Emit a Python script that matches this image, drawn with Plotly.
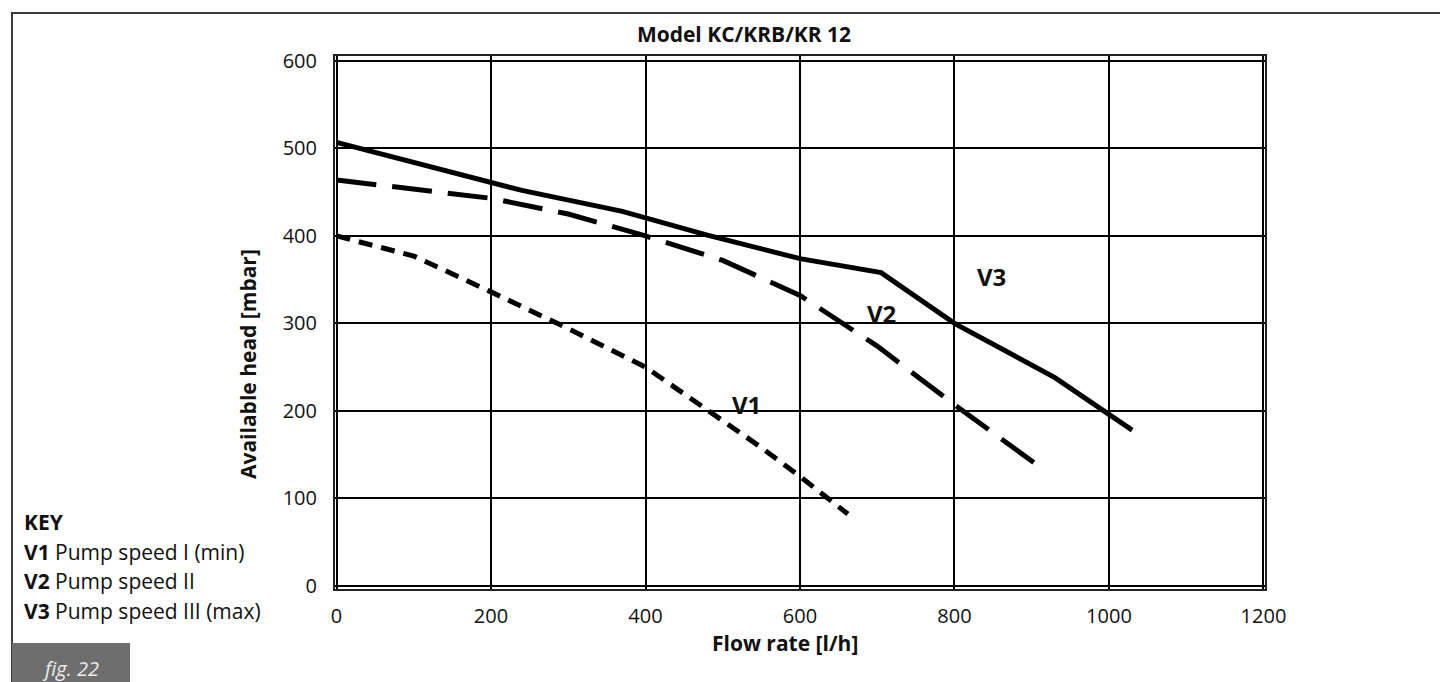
import plotly.graph_objects as go

# ---- data ----
v1_flow = [0, 100, 200, 300, 400, 480, 550, 600, 662]
v1_head = [400, 377, 336, 294, 250, 200, 158, 125, 82]

v2_flow = [0, 100, 200, 300, 400, 500, 600, 700, 800, 915]
v2_head = [464, 454, 443, 425, 400, 372, 332, 274, 207, 133]

v3_flow = [0, 100, 240, 370, 480, 600, 705, 800, 930, 1030]
v3_head = [507, 484, 452, 428, 401, 374, 358, 300, 238, 178]

x_ticks = [0, 200, 400, 600, 800, 1000, 1200]
y_ticks = [0, 100, 200, 300, 400, 500, 600]

key_lines = ["<b>KEY</b>", "<b>V1</b> Pump speed I (min)", "<b>V2</b> Pump speed II",
             "<b>V3</b> Pump speed III (max)"]

# ---- page geometry (pixels) ----
W, H = 1448, 682
L, R, T, B = 327, 1257, 48, 581
FONT = "Open Sans"


def px(x):
    return (x - L) / (R - L)


def py(y):
    return (B - y) / (B - T)


fig = go.Figure()
fig.add_trace(go.Scatter(x=v3_flow, y=v3_head, mode="lines", name="V3",
                         line=dict(color="black", width=5)))
fig.add_trace(go.Scatter(x=v2_flow, y=v2_head, mode="lines", name="V2",
                         line=dict(color="black", width=5, dash="40px,16px")))
fig.add_trace(go.Scatter(x=v1_flow, y=v1_head, mode="lines", name="V1",
                         line=dict(color="black", width=5, dash="14px,9px")))

fig.update_layout(
    width=W, height=H, autosize=False,
    margin=dict(l=L, r=W - R, t=T, b=H - B, pad=0),
    plot_bgcolor="white", paper_bgcolor="white",
    showlegend=False,
    font=dict(family=FONT, size=20, color="#111"),
    title=dict(text="<b>Model KC/KRB/KR 12</b>", xref="paper", x=px(736), xanchor="center",
               y=1 - 27 / H, yanchor="middle", font=dict(size=21, color="#111")),
)
fig.update_xaxes(range=[-2, 1202], tickvals=x_ticks, showgrid=True, gridcolor="black", gridwidth=1.5,
                 showline=True, linecolor="#222", linewidth=2, mirror=True, zeroline=False,
                 ticks="", ticklabelstandoff=8)
fig.update_yaxes(range=[-3.7, 605.7], tickvals=y_ticks, showgrid=True, gridcolor="black", gridwidth=1.5,
                 showline=True, linecolor="#222", linewidth=2, mirror=True, zeroline=False,
                 ticks="", ticklabelstandoff=12)

# axis titles
fig.add_annotation(text="<b>Flow rate [l/h]</b>", xref="paper", yref="paper", x=px(777), y=py(635),
                   showarrow=False, xanchor="center", yanchor="middle", font=dict(size=21))
fig.add_annotation(text="<b>Available head [mbar]</b>", xref="paper", yref="paper", x=px(240), y=py(356),
                   showarrow=False, textangle=-90, xanchor="center", yanchor="middle", font=dict(size=21))

# curve labels
for txt, xx, yy in [("V1", 738, 396), ("V2", 873, 305), ("V3", 983, 268)]:
    fig.add_annotation(text=f"<b>{txt}</b>", xref="paper", yref="paper", x=px(xx), y=py(yy),
                       showarrow=False, xanchor="center", yanchor="middle", font=dict(size=24))

# key
for i, line in enumerate(key_lines):
    fig.add_annotation(text=line, xref="paper", yref="paper", x=px(14), y=py(514 + i * 29.5),
                       showarrow=False, xanchor="left", yanchor="middle", font=dict(size=21))

# outer frame
fig.add_shape(type="path", xref="paper", yref="paper",
              path=f"M {px(4)} {py(690)} L {px(4)} {py(5)} L {px(1442)} {py(5)} L {px(1442)} {py(690)}",
              line=dict(color="#3a3a3a", width=2))
# fig. 22 tab
fig.add_shape(type="rect", xref="paper", yref="paper", x0=px(4), x1=px(122), y0=py(635), y1=py(690),
              fillcolor="#6e6e6e", line=dict(width=0))
fig.add_annotation(text="<i>fig. 22</i>", xref="paper", yref="paper", x=px(62), y=py(660),
                   showarrow=False, xanchor="center", yanchor="middle",
                   font=dict(size=20, color="#ececec"))

fig.write_html("out.html")
